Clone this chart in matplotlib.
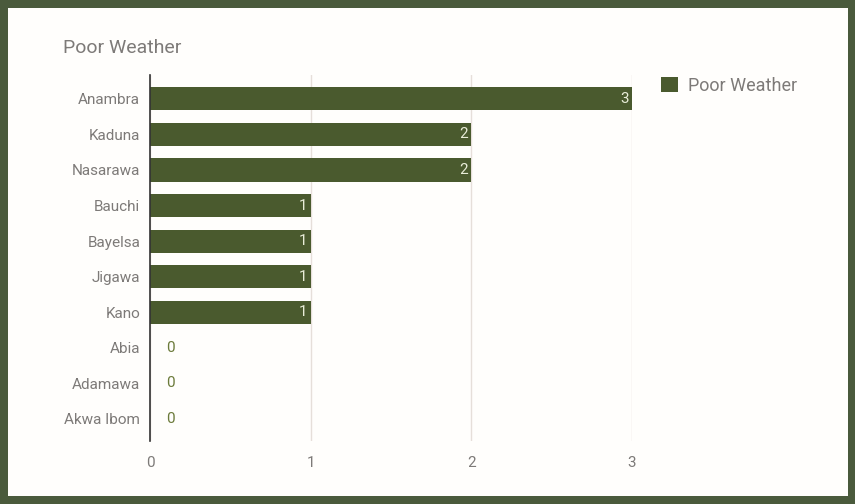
import matplotlib.pyplot as plt
from matplotlib.patches import Rectangle

states = ["Anambra", "Kaduna", "Nasarawa", "Bauchi", "Bayelsa", "Jigawa",
          "Kano", "Abia", "Adamawa", "Akwa Ibom"]
counts = [3, 2, 2, 1, 1, 1, 1, 0, 0, 0]
xticks = [0, 1, 2, 3]

bar_color = "#4a5a2e"
text_color = "#7d7a78"
border_color = "#4a5a3c"

plt.rcParams['font.family'] = ['Roboto', 'DejaVu Sans']

fig = plt.figure(figsize=(8.55, 5.04), dpi=100)
fig.patch.set_facecolor(border_color)
# white card inside the border
card = Rectangle((8 / 855, 8 / 504), 840 / 855, 488 / 504,
                 transform=fig.transFigure, facecolor="#fffefc",
                 edgecolor="none", zorder=-1)
fig.patches.append(card)

ax = fig.add_axes([150 / 855, 1 - 441 / 504, 482 / 855, 366 / 504])
ax.set_facecolor("none")
ax.set_zorder(2)

y = list(range(len(states)))
bars = ax.barh(y, counts, height=0.65, color=bar_color, label="Poor Weather", zorder=3)
ax.set_ylim(9.62, -0.67)
ax.set_xlim(0, 3)

for yi, v in zip(y, counts):
    if v > 0:
        ax.text(v - 0.02, yi, str(v), ha="right", va="center", color="#e8ecd8",
                fontsize=11, zorder=4)
    else:
        ax.text(0.13, yi, str(v), ha="center", va="center", color="#6b7a3a",
                fontsize=11, zorder=4)

ax.set_yticks(y)
ax.set_yticklabels(states, color=text_color, fontsize=11)
ax.set_xticks(xticks)
ax.set_xticklabels([str(t) for t in xticks], color=text_color, fontsize=11)
ax.tick_params(axis="both", length=0, pad=7)
ax.tick_params(axis="x", pad=11)

ax.grid(axis="x", color="#e6dfda", linewidth=1, zorder=0)
for s in ["top", "right", "bottom"]:
    ax.spines[s].set_visible(False)
ax.spines["left"].set_color("#333333")
ax.spines["left"].set_linewidth(1.2)
ax.spines["left"].set_zorder(5)

fig.text(63 / 855, 1 - 48 / 504, "Poor Weather", fontsize=14, color=text_color,
         ha="left", va="center")

leg = fig.legend(handles=[bars], labels=["Poor Weather"], loc="center left",
                 bbox_to_anchor=(645 / 855, 1 - 86 / 504), frameon=False,
                 fontsize=13, handlelength=0.9, handleheight=0.9, handletextpad=0.6)
for t in leg.get_texts():
    t.set_color(text_color)

fig.savefig("out.png", dpi=100, facecolor=fig.get_facecolor())
